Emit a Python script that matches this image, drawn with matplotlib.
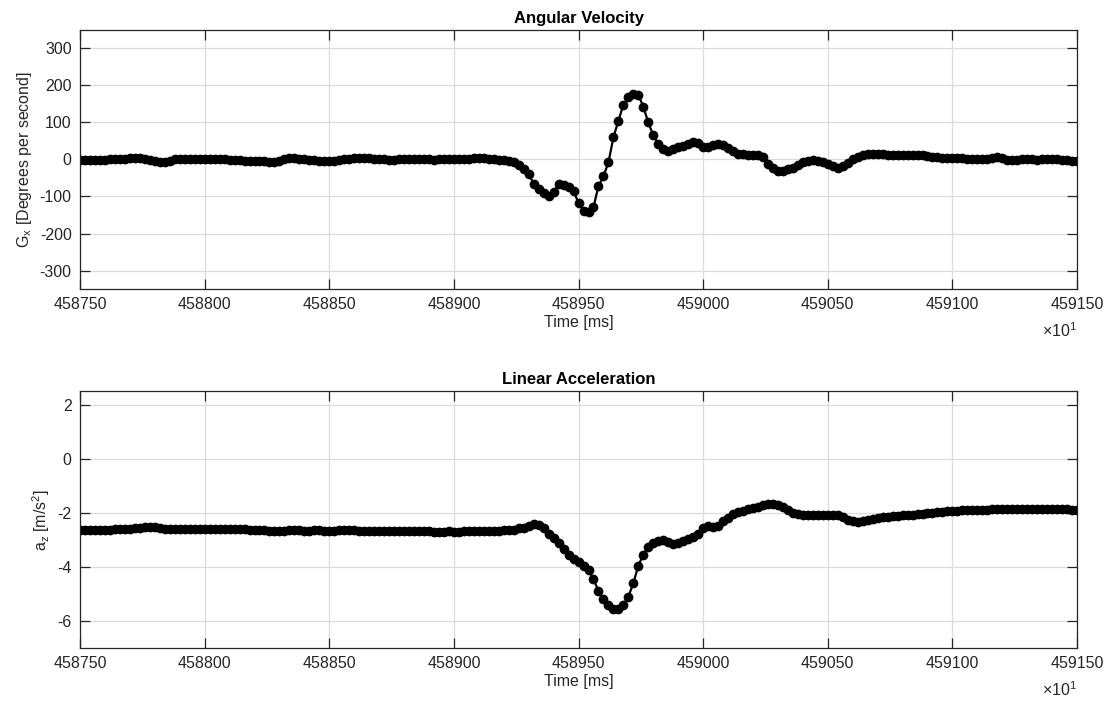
import numpy as np
import matplotlib
matplotlib.use("Agg")
import matplotlib.pyplot as plt

plt.rcParams['font.family'] = ['Liberation Sans', 'DejaVu Sans']
plt.rcParams['mathtext.fontset'] = 'custom'
plt.rcParams['mathtext.rm'] = 'Liberation Sans'
plt.rcParams['mathtext.default'] = 'regular'
plt.rcParams['axes.unicode_minus'] = False

# sample times, displayed in units of 10 ms (axis shows x10^1)
t_start = 458750
t_step = 2
n_samples = 201

# angular velocity about x [deg/s]
gx = [
    -2, -2, -2, -1, -1, -1, 0, 0, 1, 2,
    4, 5, 4, 2, -1, -4, -6, -6, -3, 1,
    2, 2, 1, 0, 0, 0, 1, 1, 0, 0,
    -1, -1, -2, -3, -3, -4, -4, -5, -6, -6,
    -3, 1, 3, 3, 2, 0, -1, -2, -3, -4,
    -4, -3, -2, 0, 2, 4, 5, 5, 3, 1,
    0, 0, -1, -1, 0, 0, 1, 1, 0, 0,
    0, -1, 0, 0, 1, 1, 0, 0, 1, 3,
    4, 3, 2, 0, -1, -2, -4, -8, -15, -25,
    -40, -65, -80, -91, -100, -88, -67, -68, -75, -85,
    -118, -138, -142, -128, -72, -45, -8, 60, 105, 148,
    168, 176, 175, 142, 100, 65, 42, 28, 24, 28,
    33, 37, 43, 48, 44, 34, 34, 40, 43, 38,
    30, 22, 16, 14, 13, 13, 12, 6, -12, -24,
    -30, -31, -27, -22, -14, -7, -3, -2, -4, -8,
    -12, -18, -22, -18, -9, 0, 8, 12, 15, 16,
    15, 14, 13, 12, 12, 12, 12, 11, 12, 12,
    10, 8, 6, 5, 4, 4, 3, 3, 2, 2,
    2, 2, 2, 4, 6, 5, -1, -2, -1, 0,
    0, 0, -1, 0, 0, 1, 0, -1, -2, -3,
    -4,
]

# linear acceleration along z [m/s^2]
az = [
    -2.62, -2.62, -2.62, -2.62, -2.62, -2.62, -2.62, -2.61, -2.60, -2.60,
    -2.59, -2.58, -2.56, -2.54, -2.52, -2.53, -2.56, -2.59, -2.61, -2.61,
    -2.61, -2.60, -2.60, -2.61, -2.61, -2.60, -2.60, -2.60, -2.61, -2.61,
    -2.61, -2.60, -2.60, -2.61, -2.62, -2.62, -2.63, -2.64, -2.66, -2.67,
    -2.67, -2.66, -2.64, -2.64, -2.65, -2.66, -2.66, -2.65, -2.65, -2.66,
    -2.66, -2.66, -2.65, -2.64, -2.64, -2.65, -2.66, -2.66, -2.66, -2.67,
    -2.67, -2.66, -2.66, -2.67, -2.68, -2.68, -2.68, -2.68, -2.69, -2.69,
    -2.69, -2.70, -2.70, -2.70, -2.69, -2.70, -2.70, -2.69, -2.68, -2.68,
    -2.68, -2.67, -2.67, -2.67, -2.66, -2.65, -2.64, -2.62, -2.58, -2.55,
    -2.48, -2.40, -2.44, -2.58, -2.78, -2.93, -3.12, -3.33, -3.58, -3.72,
    -3.82, -3.96, -4.12, -4.45, -4.90, -5.18, -5.40, -5.56, -5.55, -5.40,
    -5.10, -4.60, -3.95, -3.55, -3.25, -3.12, -3.05, -3.02, -3.08, -3.16,
    -3.12, -3.04, -2.98, -2.90, -2.80, -2.58, -2.50, -2.52, -2.48, -2.30,
    -2.18, -2.03, -1.98, -1.92, -1.87, -1.84, -1.78, -1.72, -1.67, -1.68,
    -1.73, -1.80, -1.90, -2.00, -2.06, -2.09, -2.10, -2.09, -2.08, -2.08,
    -2.08, -2.09, -2.10, -2.16, -2.25, -2.32, -2.34, -2.32, -2.28, -2.24,
    -2.20, -2.17, -2.15, -2.13, -2.12, -2.10, -2.08, -2.07, -2.05, -2.03,
    -2.02, -2.00, -1.98, -1.96, -1.94, -1.93, -1.92, -1.91, -1.90, -1.89,
    -1.89, -1.88, -1.88, -1.87, -1.87, -1.87, -1.87, -1.87, -1.87, -1.87,
    -1.87, -1.87, -1.87, -1.87, -1.87, -1.87, -1.87, -1.87, -1.87, -1.88,
    -1.88,
]

t = t_start + t_step * np.arange(n_samples)
xticks = np.arange(458750, 459151, 50)

dark = '#262626'
fig = plt.figure(figsize=(11.13, 7.02), dpi=100)
ax1 = fig.add_axes([0.0719, 0.5883, 0.8958, 0.3690])
ax2 = fig.add_axes([0.0719, 0.0769, 0.8958, 0.3661])


def style(ax, title, ylabel, ylim, yticks):
    ax.set_xlim(458750, 459150)
    ax.set_ylim(*ylim)
    ax.set_xticks(xticks)
    ax.set_yticks(yticks)
    ax.set_xticklabels([str(v) for v in xticks])
    ax.grid(True, color='#dcdcdc', linewidth=0.9)
    ax.set_axisbelow(True)
    ax.tick_params(direction='in', top=True, right=True, length=7,
                   width=0.9, colors=dark, labelsize=11.5, pad=6)
    for s in ax.spines.values():
        s.set_color(dark)
        s.set_linewidth(0.9)
    ax.set_title(title, fontsize=12, fontweight='bold', color='black', pad=5)
    ax.set_xlabel('Time [ms]', fontsize=11.5, color=dark, labelpad=2)
    ax.set_ylabel(ylabel, fontsize=11.5, color=dark, labelpad=4)
    ax.annotate(r'$\times10^{1}$', xy=(1.0, 0.0), xycoords='axes fraction',
                xytext=(0, -30), textcoords='offset points',
                ha='right', va='center', fontsize=11.5, color=dark)


ax1.plot(t, gx, '-o', color='black', linewidth=1.6, markersize=6,
         markerfacecolor='black', markeredgecolor='black')
style(ax1, 'Angular Velocity', r'G$_{x}$ [Degrees per second]',
      (-350, 350), np.arange(-300, 301, 100))

ax2.plot(t, az, '-o', color='black', linewidth=1.6, markersize=6,
         markerfacecolor='black', markeredgecolor='black')
style(ax2, 'Linear Acceleration', r'a$_{z}$ [m/s$^{2}$]',
      (-7, 2.5), np.arange(-6, 3, 2))

fig.savefig('out.png', dpi=100)
